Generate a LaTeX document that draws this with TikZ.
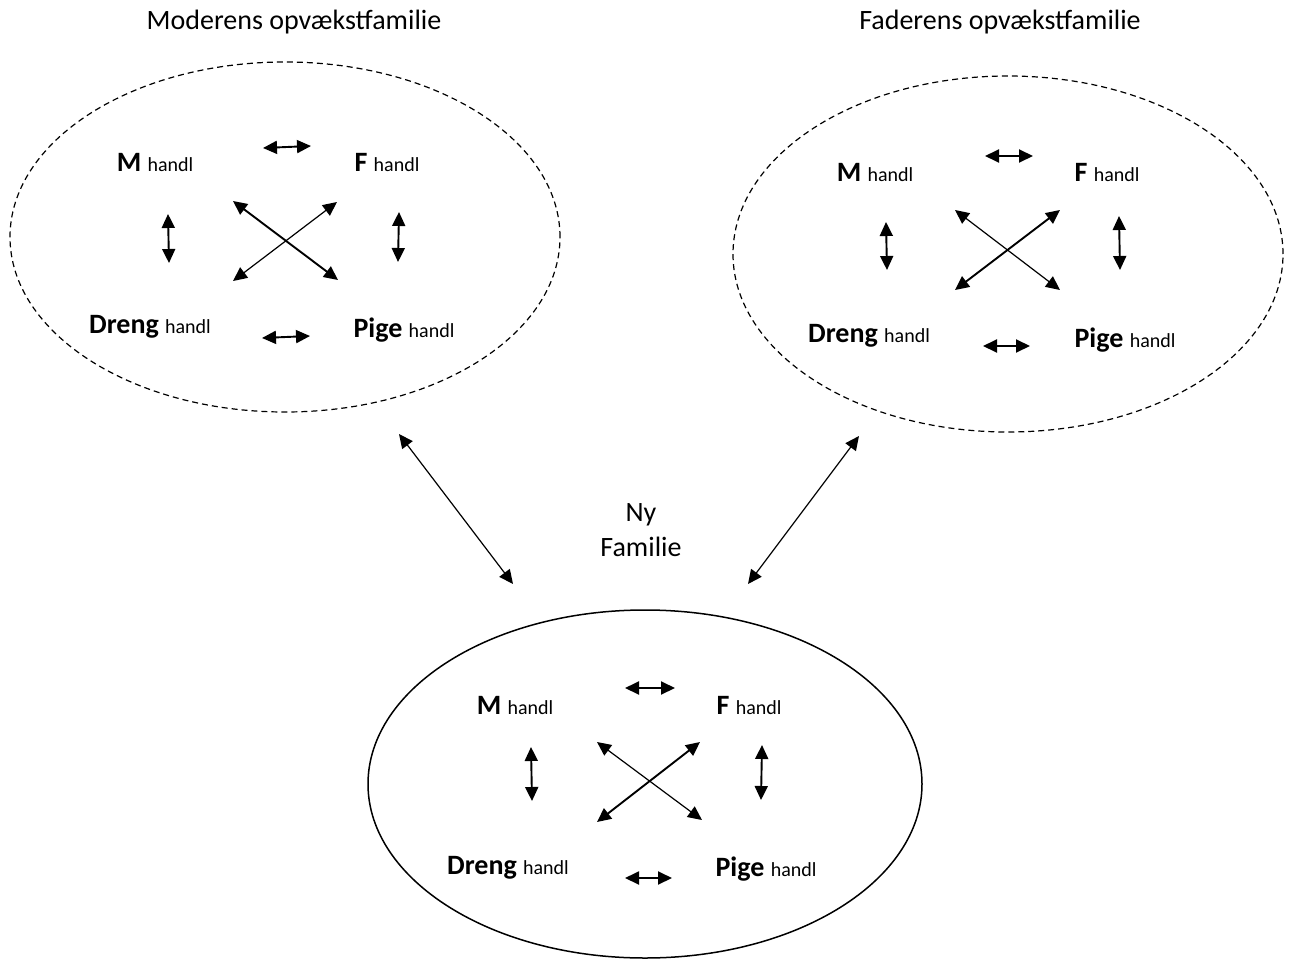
\documentclass[tikz,border=0pt]{standalone}
\usepackage{fontspec}
\setmainfont{Carlito}
\usetikzlibrary{shapes.geometric,arrows.meta}
\tikzset{
    familie/.style = {draw, ellipse, inner sep=0pt, line width=0.75pt},
    stiplet/.style = {line width=0.6pt, dash pattern=on 3pt off 2pt},
    titel/.style = {font=\fontsize{14}{17.5}\selectfont, align=center},
    person/.style = {font=\fontsize{14}{17}\selectfont\bfseries, inner sep=0pt},
    pil/.style = {line width=0.95pt, {Triangle[length=7pt,width=6.5pt]}-{Triangle[length=7pt,width=6.5pt]}},
    tyndpil/.style = {line width=0.6pt, {Triangle[length=7pt,width=6.5pt]}-{Triangle[length=7pt,width=6.5pt]}},
}
\newcommand{\handl}{{\fontsize{10}{12}\mdseries\selectfont handl}}

\begin{document}
\begin{tikzpicture}[x=0.5pt, y=-0.5pt]
\useasboundingbox (0,0) rectangle (1290,963);

% overskrifter
\node[titel] (modertitel) at (294,22) {Moderens opvækstfamilie};
\node[titel] (fadertitel) at (1000,22) {Faderens opvækstfamilie};
\node[titel] (nytitel) at (641,530) {Ny\\Familie};

% de tre familier
\node[familie, stiplet, minimum width=275pt, minimum height=175pt] (moder) at (285,237) {};
\node[familie, stiplet, minimum width=275pt, minimum height=178pt] (fader) at (1008,254) {};
\node[familie, minimum width=277pt, minimum height=174pt] (ny) at (645,784) {};

% moderens opvaekstfamilie
\node[person] (moderM) at (155,162) {M \handl};
\node[person] (moderF) at (387,162) {F \handl};
\node[person] (moderD) at (150,327) {Dreng \handl};
\node[person] (moderP) at (404,330) {Pige \handl};
\draw[pil] (263,148) -- (311,146);
\draw[pil] (262,338) -- (310,336);
\draw[pil] (168,214) -- (169,263);
\draw[pil] (399,212) -- (398,262);
\draw[pil] (233,201) -- (338,280);
\draw[tyndpil] (337,202) -- (233,281);

% faderens opvaekstfamilie
\node[person] (faderM) at (875,172) {M \handl};
\node[person] (faderF) at (1107,172) {F \handl};
\node[person] (faderD) at (869,336) {Dreng \handl};
\node[person] (faderP) at (1125,340) {Pige \handl};
\draw[pil] (985,156) -- (1033,156);
\draw[pil] (983,346) -- (1030,346);
\draw[pil] (886,222) -- (887,270);
\draw[pil] (1119,216) -- (1120,270);
\draw[tyndpil] (955,210) -- (1060,290);
\draw[pil] (1060,210) -- (955,290);

% ny familie
\node[person] (nyM) at (515,705) {M \handl};
\node[person] (nyF) at (749,705) {F \handl};
\node[person] (nyD) at (508,868) {Dreng \handl};
\node[person] (nyP) at (766,869) {Pige \handl};
\draw[pil] (625,688) -- (675,688);
\draw[pil] (625,878) -- (672,878);
\draw[pil] (531,747) -- (532,801);
\draw[pil] (762,745) -- (761,800);
\draw[tyndpil] (597,742) -- (702,820);
\draw[pil] (700,742) -- (597,822);

% forbindelser mellem familierne
\coordinate (moderud) at (399,434);
\coordinate (nyvenstre) at (513,584);
\coordinate (faderud) at (859,436);
\coordinate (nyhoejre) at (748,584);
\draw[tyndpil] (moderud) -- (nyvenstre);
\draw[tyndpil] (faderud) -- (nyhoejre);
\end{tikzpicture}
\end{document}
